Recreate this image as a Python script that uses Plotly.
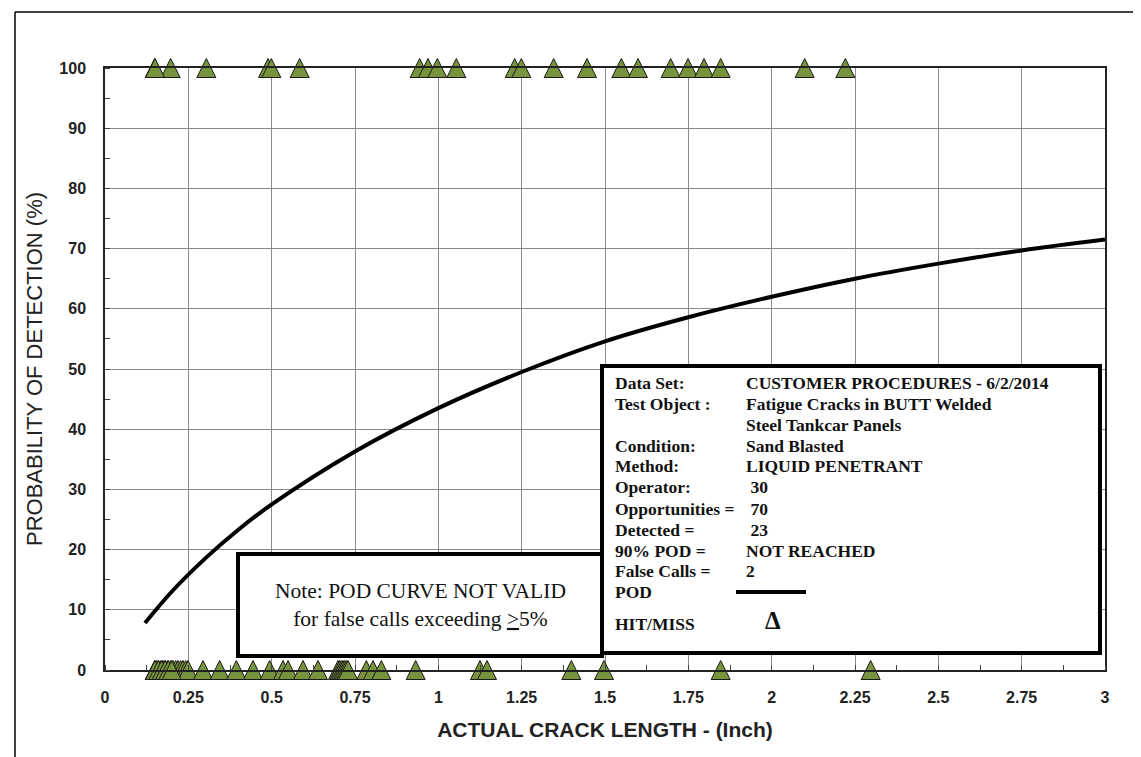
import plotly.graph_objects as go

# ---------------- data ----------------
curve_x = [0.12, 0.2, 0.3, 0.4, 0.5, 0.75, 1.0, 1.25, 1.5, 1.75, 2.0, 2.25, 2.5, 2.75, 3.0]
curve_pod = [7.8, 13.0, 18.5, 23.3, 27.5, 36.3, 43.5, 49.5, 54.6, 58.6, 62.0, 65.0, 67.5, 69.7, 71.5]

hit_x = [0.149, 0.197, 0.304, 0.489, 0.499, 0.584, 0.944, 0.969, 0.997, 1.054,
         1.229, 1.249, 1.346, 1.446, 1.549, 1.599, 1.697, 1.749, 1.797, 1.847,
         2.099, 2.221, 0.15]
hit_y = [100] * len(hit_x)

miss_x = [0.149, 0.155, 0.161, 0.168, 0.174, 0.182, 0.189, 0.197, 0.204, 0.212, 0.219,
          0.227, 0.234, 0.242, 0.249, 0.294, 0.344, 0.394, 0.444, 0.494, 0.534,
          0.549, 0.594, 0.639, 0.699, 0.704, 0.709, 0.714, 0.719, 0.724, 0.729,
          0.784, 0.804, 0.829, 0.932, 1.125, 1.146, 1.399, 1.497, 1.847, 2.297,
          0.15, 0.16, 0.17, 0.18, 0.19, 0.2]
miss_y = [0] * len(miss_x)

x_ticks = [0, 0.25, 0.5, 0.75, 1, 1.25, 1.5, 1.75, 2, 2.25, 2.5, 2.75, 3]
x_tick_text = ["0", "0.25", "0.5", "0.75", "1", "1.25", "1.5", "1.75", "2", "2.25", "2.5", "2.75", "3"]
y_ticks = [0, 10, 20, 30, 40, 50, 60, 70, 80, 90, 100]

info_labels = ["Data Set:", "Test Object :", "", "Condition:", "Method:", "Operator:",
               "Opportunities =", "Detected =", "90% POD =", "False Calls =", "POD"]
info_values = ["CUSTOMER PROCEDURES - 6/2/2014", "Fatigue Cracks in BUTT Welded",
               "Steel Tankcar Panels", "Sand Blasted", "LIQUID PENETRANT", " 30",
               " 70", " 23", "NOT REACHED", "2", ""]

# ---------------- layout helpers (pixel -> paper) ----------------
W, H = 1141, 757
L, R, T, B = 97, 44, 60, 95
PW, PH = W - L - R, H - T - B


def px(x):
    return (x - L) / PW


def py(y):
    return (H - B - y) / PH


GREEN = "#77933C"
MSIZE = 19
fig = go.Figure()

fig.add_trace(go.Scatter(
    x=curve_x, y=curve_pod, mode="lines",
    line=dict(color="black", width=4, shape="spline", smoothing=1.0),
    hoverinfo="skip", showlegend=False))

# arrow-down rotated 180deg gives an upward triangle (width = height = size);
# standoff recentres it on the data point.
tri = dict(symbol="arrow-down", angle=180, size=MSIZE, color=GREEN, standoff=MSIZE / 2,
           line=dict(color="#1a1a1a", width=1))

fig.add_trace(go.Scatter(
    x=miss_x, y=miss_y, mode="markers", cliponaxis=False,
    marker=tri, showlegend=False))

fig.add_trace(go.Scatter(
    x=hit_x, y=hit_y, mode="markers", cliponaxis=False,
    marker=tri, showlegend=False))

shapes = []
# outer frame
shapes.append(dict(type="line", xref="paper", yref="paper", x0=px(7), x1=px(7), y0=py(4), y1=py(755),
                   line=dict(color="black", width=1.5)))
shapes.append(dict(type="line", xref="paper", yref="paper", x0=px(7), x1=px(1141), y0=py(4), y1=py(4),
                   line=dict(color="black", width=1.5)))
shapes.append(dict(type="line", xref="paper", yref="paper", x0=px(7), x1=px(1141), y0=py(755), y1=py(755),
                   line=dict(color="#999999", width=1.5)))
# info box
shapes.append(dict(type="rect", xref="paper", yref="paper", x0=px(594), x1=px(1092), y0=py(645), y1=py(358),
                   fillcolor="white", line=dict(color="black", width=4), layer="above"))
# note box
shapes.append(dict(type="rect", xref="paper", yref="paper", x0=px(230), x1=px(594), y0=py(648), y1=py(546),
                   fillcolor="white", line=dict(color="black", width=4), layer="above"))
# POD legend line
shapes.append(dict(type="line", xref="paper", yref="paper", x0=px(728), x1=px(798), y0=py(584), y1=py(584),
                   line=dict(color="black", width=4), layer="above"))

annotations = []
SERIF = "Liberation Serif"
TXT = "#111111"
FS = 17.5
line_y = [375, 396, 417, 438, 458, 479, 501, 522, 543, 563, 584]
for lab, val, yy in zip(info_labels, info_values, line_y):
    if lab:
        annotations.append(dict(xref="paper", yref="paper", x=px(605), y=py(yy), text="<b>%s</b>" % lab,
                                showarrow=False, xanchor="left", yanchor="middle",
                                font=dict(family=SERIF, size=FS, color=TXT)))
    if val:
        annotations.append(dict(xref="paper", yref="paper", x=px(736), y=py(yy), text="<b>%s</b>" % val,
                                showarrow=False, xanchor="left", yanchor="middle",
                                font=dict(family=SERIF, size=FS, color=TXT)))
annotations.append(dict(xref="paper", yref="paper", x=px(605), y=py(616), text="<b>HIT/MISS</b>",
                        showarrow=False, xanchor="left", yanchor="middle",
                        font=dict(family=SERIF, size=FS, color=TXT)))
annotations.append(dict(xref="paper", yref="paper", x=px(765), y=py(612), text="<b>Δ</b>",
                        showarrow=False, xanchor="center", yanchor="middle",
                        font=dict(family=SERIF, size=25, color=TXT)))
annotations.append(dict(xref="paper", yref="paper", x=px(412), y=py(597),
                        text="Note: POD CURVE NOT VALID<br>for false calls exceeding <u>&gt;</u>5%",
                        showarrow=False, xanchor="center", yanchor="middle", align="center",
                        font=dict(family=SERIF, size=21.5, color=TXT)))

fig.update_layout(
    width=W, height=H,
    margin=dict(l=L, r=R, t=T, b=B),
    paper_bgcolor="white", plot_bgcolor="white",
    shapes=shapes, annotations=annotations,
    xaxis=dict(range=[0, 3], tickmode="array", tickvals=x_ticks, ticktext=x_tick_text,
               showgrid=True, gridcolor="#8a8a8a", gridwidth=1,
               showline=True, linecolor="#222222", linewidth=1.5, mirror=True,
               zeroline=False, ticks="", ticklabelstandoff=12,
               minor=dict(tickmode="linear", tick0=0, dtick=0.125, ticks="inside", ticklen=5,
                          tickcolor="#444444", showgrid=False),
               tickfont=dict(family="Liberation Sans", size=16, color="#222222", weight="bold"),
               title=dict(text="<b>ACTUAL CRACK LENGTH - (Inch)</b>", standoff=17,
                          font=dict(family="Liberation Sans", size=21, color="#222222"))),
    yaxis=dict(range=[0, 100], tickmode="array", tickvals=y_ticks,
               showgrid=True, gridcolor="#8a8a8a", gridwidth=1,
               showline=True, linecolor="#222222", linewidth=1.5, mirror=True,
               zeroline=False, ticks="", ticklabelstandoff=14,
               minor=dict(tickmode="linear", tick0=0, dtick=5, ticks="inside", ticklen=5,
                          tickcolor="#444444", showgrid=False),
               tickfont=dict(family="Liberation Sans", size=16, color="#222222", weight="bold"),
               title=dict(text="PROBABILITY OF DETECTION (%)", standoff=11,
                          font=dict(family="Liberation Sans", size=22, color="#222222"))),
)

fig.write_html("out.html")
